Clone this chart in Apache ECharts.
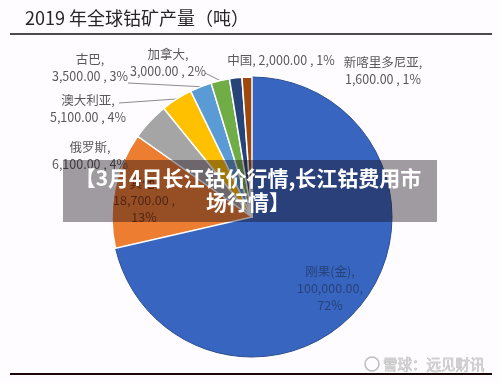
<!DOCTYPE html>
<html>
<head>
<meta charset="utf-8">
<script src="https://cdn.jsdelivr.net/npm/echarts@6/dist/echarts.min.js"></script>
<style>
  html, body { margin: 0; padding: 0; background: #fefcfe; }
  #cobalt { width: 500px; height: 383px; }
</style>
</head>
<body>
<div id="cobalt"></div>
<script>
  // 2019 全球钴矿产量（吨）
  const countries = ['刚果(金)', '其他', '俄罗斯', '澳大利亚', '古巴', '加拿大', '中国', '新喀里多尼亚']
  const output = [100000, 18700, 6100, 5100, 3500, 3000, 2000, 1600]
  const shares = ['72%', '13%', '4%', '4%', '3%', '2%', '1%', '1%']

  const colors = ['#3865bf', '#ed7d31', '#a5a5a5', '#ffc000', '#5b9bd5', '#70ad47', '#264478', '#9e480e']
  // label spots (centre of the text block) and which ones get a leader line
  const spots = [
    { x: 330, y: 288, inside: true, color: '#27427a' },
    { x: 144, y: 200, inside: true, color: '#7a3410' },
    { x: 90, y: 156 },
    { x: 88, y: 109, line: [119, 103] },
    { x: 90, y: 68, line: [128, 83] },
    { x: 168, y: 63, line: [205, 73] },
    { x: 281, y: 60 },
    { x: 383, y: 71 }
  ]

  function fmt (v) {
    return v.toLocaleString('en-US', { minimumFractionDigits: 2, maximumFractionDigits: 2 })
  }

  let myChart = echarts.init(document.getElementById('cobalt'), null, { renderer: 'canvas' })

  const option = {
    backgroundColor: '#fefcfe',
    animation: false,
    textStyle: { fontFamily: 'Noto Sans CJK SC' },
    graphic: [
      {
        type: 'text', left: 25, top: 9, z: 100,
        style: { text: '2019 年全球钴矿产量（吨）', fontSize: 18, fill: '#262626', fontFamily: 'Noto Sans CJK SC' }
      },
      { type: 'line', z: 100, shape: { x1: 10, y1: 34, x2: 492, y2: 34 }, style: { stroke: '#111', lineWidth: 1.6 } },
      { type: 'line', z: 100, shape: { x1: 10, y1: 374, x2: 492, y2: 374 }, style: { stroke: '#1a0808', lineWidth: 2 } },
      {
        type: 'circle', z: 100, shape: { cx: 372, cy: 364, r: 7 },
        style: { fill: 'none', stroke: '#bdbdbd', lineWidth: 1.5 }
      },
      {
        type: 'text', x: 383, y: 364, z: 100,
        style: {
          text: '雪球：远见财讯', fontSize: 14.5, fill: 'rgba(210,210,210,0.95)',
          stroke: '#a8a8a8', lineWidth: 0.5, verticalAlign: 'middle', fontFamily: 'Noto Sans CJK SC'
        }
      },
      {
        type: 'rect', z: 110, shape: { x: 63, y: 160, width: 374, height: 62 },
        style: { fill: 'rgba(20,10,20,0.4)' }
      },
      {
        type: 'text', x: 248, y: 178, z: 111,
        style: {
          text: '【3月4日长江钴价行情,长江钴费用市', fontSize: 21, fontWeight: 'bold', fill: '#fff',
          align: 'center', verticalAlign: 'middle', fontFamily: 'Noto Sans CJK SC'
        }
      },
      {
        type: 'text', x: 248, y: 202, z: 111,
        style: {
          text: '场行情】', fontSize: 21, fontWeight: 'bold', fill: '#fff',
          align: 'center', verticalAlign: 'middle', fontFamily: 'Noto Sans CJK SC'
        }
      }
    ],
    series: [
      {
        type: 'pie',
        center: [252, 217],
        radius: [0, 140],
        startAngle: 90,
        clockwise: true,
        avoidLabelOverlap: false,
        silent: true,
        label: {
          fontSize: 12.5,
          lineHeight: 17,
          color: '#595959',
          fontFamily: 'Noto Sans CJK SC',
          formatter: function (p) {
            const i = p.dataIndex
            if (i < 2) return countries[i] + ',\n' + fmt(output[i]) + (i === 0 ? ',' : ' ,') + '\n' + shares[i]
            if (i === 6) return countries[i] + ', ' + fmt(output[i]) + ' , ' + shares[i]
            return countries[i] + ',\n' + fmt(output[i]) + ' , ' + shares[i]
          }
        },
        labelLine: { lineStyle: { color: '#8c8c8c', width: 1 }, length: 10, length2: 10 },
        labelLayout: function (params) {
          const s = spots[params.dataIndex]
          const res = { x: s.x, y: s.y, align: 'center', verticalAlign: 'middle' }
          if (s.line && params.labelLinePoints) {
            const p0 = params.labelLinePoints[0]
            res.labelLinePoints = [p0, s.line, s.line]
          }
          return res
        },
        data: countries.map(function (name, i) {
          const s = spots[i]
          return {
            name: name,
            value: output[i],
            itemStyle: i === 0
              ? { color: colors[i], borderColor: '#2c4f8f', borderWidth: 1 }
              : { color: colors[i], borderColor: '#ffffff', borderWidth: 1.5 },
            label: s.inside ? { position: 'inside', color: s.color } : { position: 'outside' },
            labelLine: { show: !!s.line }
          }
        })
      }
    ]
  }
  myChart.setOption(option)
</script>
</body>
</html>
